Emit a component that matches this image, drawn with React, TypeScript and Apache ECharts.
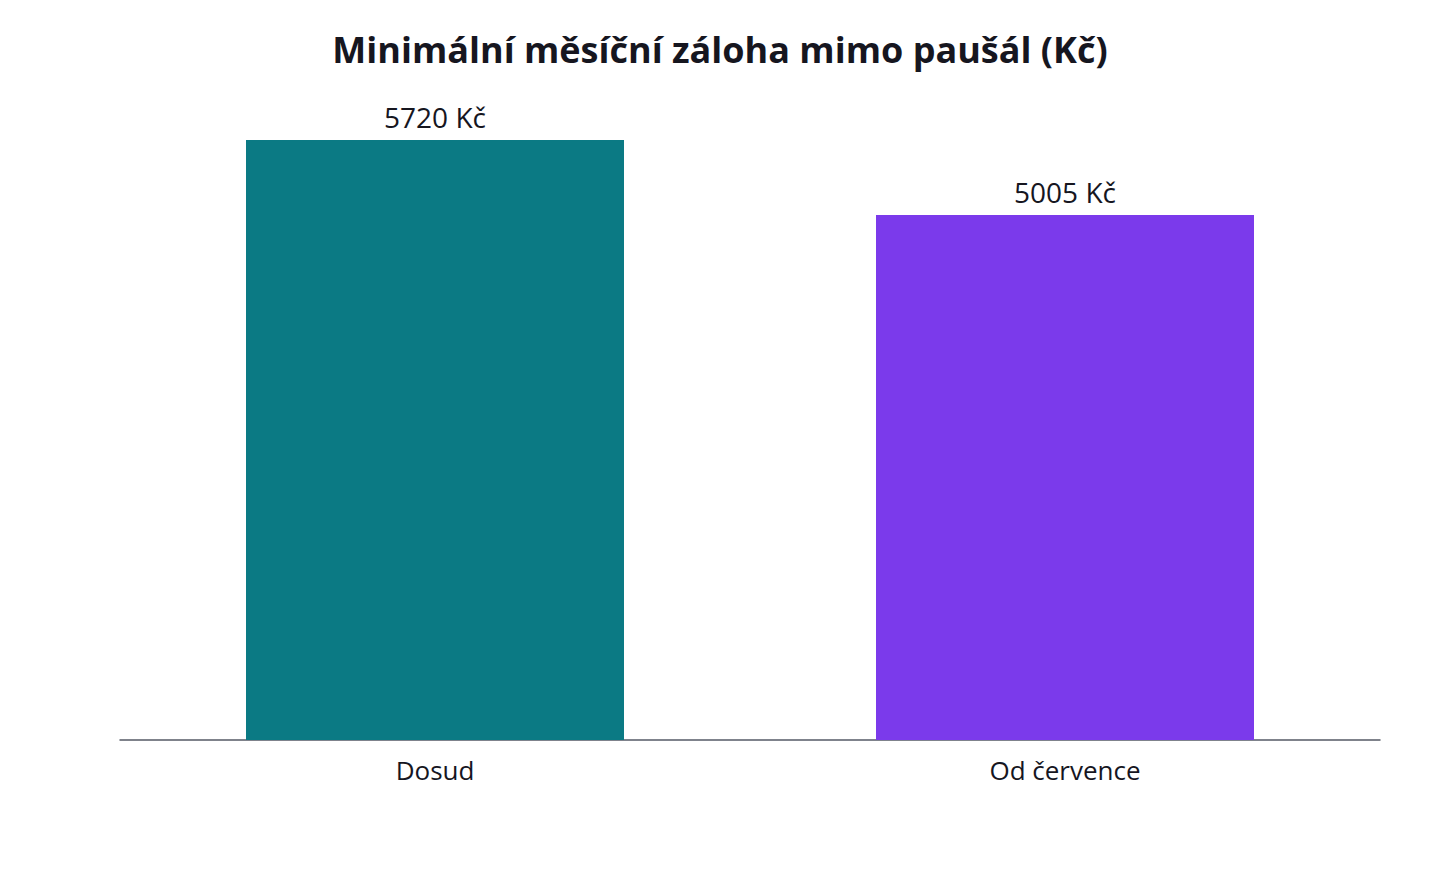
import React, { useEffect, useRef } from "react";
import * as echarts from "echarts";

const categories = ["Dosud", "Od července"];
const values = [5720, 5005];
const barColors = ["#0b7a84", "#7b3aeb"];
const titleText = "Minimální měsíční záloha mimo paušál (Kč)";

export default function App() {
  const ref = useRef<HTMLDivElement>(null);
  useEffect(() => {
    const chart = echarts.init(ref.current!, undefined, { renderer: "svg" });
    chart.setOption({
      animation: false,
      backgroundColor: "#ffffff",
      title: {
        text: titleText,
        left: "center",
        top: 26,
        textStyle: {
          fontFamily: "Open Sans",
          fontWeight: "bold",
          fontSize: 36,
          color: "#16161f",
        },
      },
      grid: { left: 120, right: 60, top: 110, bottom: 140, containLabel: false },
      xAxis: {
        type: "category",
        data: categories,
        axisLine: { lineStyle: { color: "#555a66", width: 1.5 } },
        axisTick: { show: false },
        axisLabel: {
          fontFamily: "Open Sans",
          fontSize: 26,
          color: "#16161f",
          margin: 17,
        },
      },
      yAxis: {
        type: "value",
        min: 0,
        max: 6006,
        show: false,
        splitLine: { show: false },
      },
      series: [
        {
          type: "bar",
          barWidth: "60%",
          data: values.map((v, i) => ({ value: v, itemStyle: { color: barColors[i] } })),
          label: {
            show: true,
            position: "top",
            distance: 9,
            formatter: (p: any) => `${p.value} Kč`,
            fontFamily: "Open Sans",
            fontSize: 28,
            color: "#16161f",
          },
        },
      ],
    });
    return () => chart.dispose();
  }, []);
  return <div ref={ref} style={{ width: 1440, height: 880, position: "absolute", left: 0, top: 0 }} />;
}
